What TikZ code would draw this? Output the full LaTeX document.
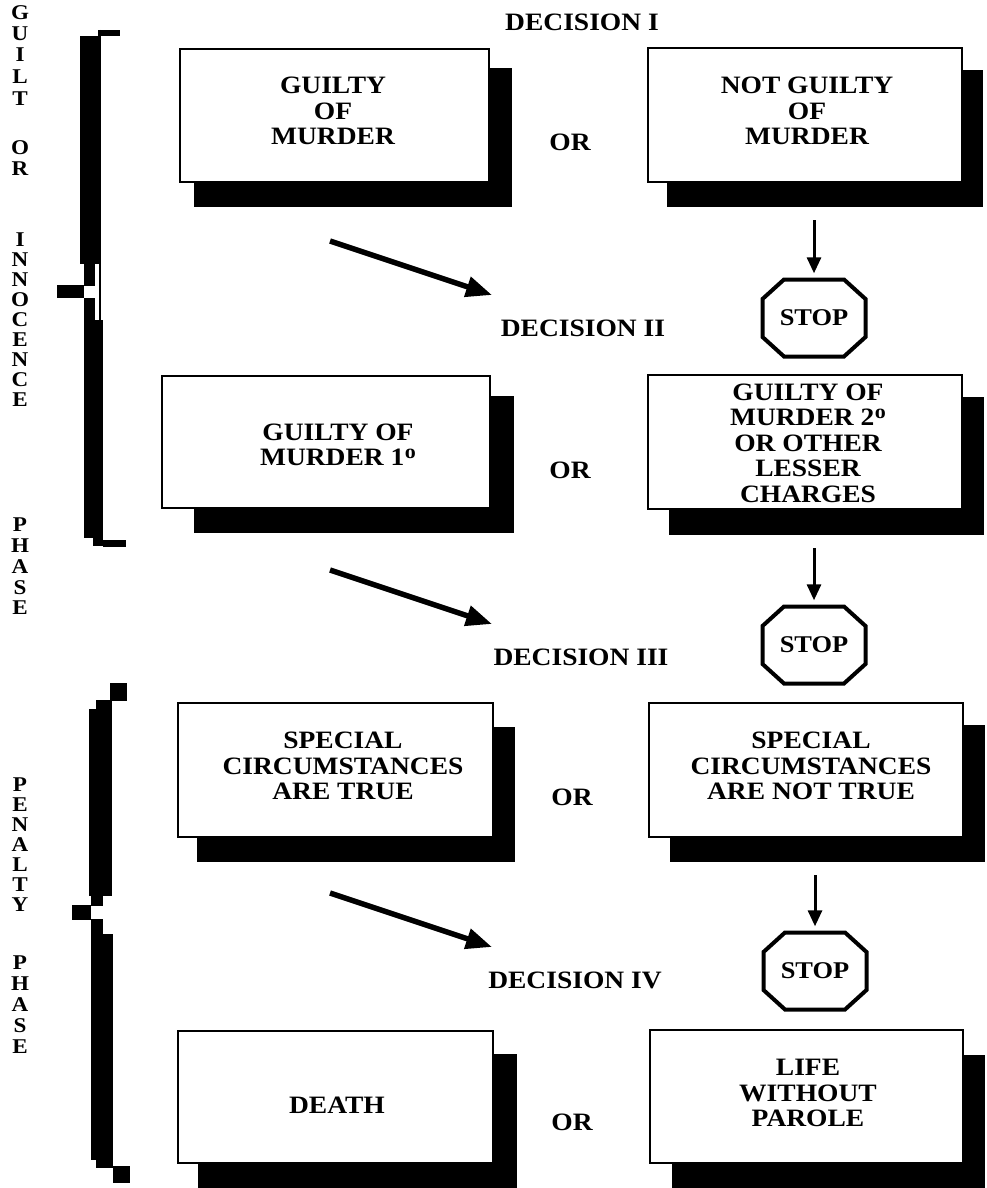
\documentclass[tikz,border=0pt]{standalone}
\usepackage{fontspec}
\setmainfont{Liberation Serif}[FakeStretch=1.1]
\usetikzlibrary{arrows.meta,calc}
\tikzset{
  shadowbox/.style={fill=black},
  boxnode/.style={draw, line width=2.5pt, fill=white, inner sep=0pt},
  boxtext/.style={align=center, font=\fontsize{25}{25.5}\selectfont\bfseries},
  declabel/.style={font=\fontsize{25}{25}\selectfont\bfseries},
  orlabel/.style={font=\fontsize{25}{25}\selectfont\bfseries},
  sidelabel/.style={font=\fontsize{21}{21}\selectfont\bfseries, inner sep=0pt},
  stopbox/.style={minimum width=103pt, minimum height=77pt, inner sep=0pt, font=\fontsize{24}{24}\selectfont\bfseries},
  octo/.style={line width=4pt, line join=miter},
  diagarrow/.style={line width=5.5pt, -{Triangle[length=26pt,width=20pt]}},
  vertarrow/.style={line width=3pt, -{Triangle[length=16pt,width=14pt]}, shorten >=6pt},
  bracefill/.style={fill=black},
}
\newcommand\ordo{\kern0.5pt\raisebox{7.3pt}{\fontsize{20}{20}\selectfont o}}
\newcommand\drawoctagon[1]{%
  \draw[octo] ($(#1)+(-30,-38.5)$) -- ($(#1)+(30,-38.5)$) -- ($(#1)+(51.5,-19)$) -- ($(#1)+(51.5,19)$)
   -- ($(#1)+(30,38.5)$) -- ($(#1)+(-30,38.5)$) -- ($(#1)+(-51.5,19)$) -- ($(#1)+(-51.5,-19)$) -- cycle;}
\begin{document}
\begin{tikzpicture}[x=1pt,y=-1pt]
\useasboundingbox (0,0) rectangle (986,1188);

% ---------- shadows ----------
\fill[shadowbox] (194,68) rectangle (512,207);
\fill[shadowbox] (667,70) rectangle (983,207);
\fill[shadowbox] (194,396) rectangle (514,533);
\fill[shadowbox] (669,397) rectangle (984,535);
\fill[shadowbox] (197,727) rectangle (515,862);
\fill[shadowbox] (670,725) rectangle (985,862);
\fill[shadowbox] (198,1054) rectangle (517,1188);
\fill[shadowbox] (672,1055) rectangle (985,1188);

% ---------- boxes ----------
\node[boxnode, minimum width=309pt, minimum height=133pt] (b1l) at (334.5,115.5) {};
\node[boxnode, minimum width=314pt, minimum height=134pt] (b1r) at (805,115) {};
\node[boxnode, minimum width=328pt, minimum height=132pt] (b2l) at (326,442) {};
\node[boxnode, minimum width=314pt, minimum height=134pt] (b2r) at (805,442) {};
\node[boxnode, minimum width=315pt, minimum height=134pt] (b3l) at (335.5,770) {};
\node[boxnode, minimum width=314pt, minimum height=134pt] (b3r) at (806,770) {};
\node[boxnode, minimum width=315pt, minimum height=132pt] (b4l) at (335.5,1097) {};
\node[boxnode, minimum width=313pt, minimum height=133pt] (b4r) at (806.5,1096.5) {};

% ---------- box texts ----------
\node[boxtext] (t1l) at (333,111) {GUILTY\\OF\\MURDER};
\node[boxtext] (t1r) at (807,111) {NOT GUILTY\\OF\\MURDER};
\node[boxtext] (t2l) at (338,445) {GUILTY OF\\MURDER 1\ordo};
\node[boxtext] (t2r) at (808,443) {GUILTY OF\\MURDER 2\ordo\\OR OTHER\\LESSER\\CHARGES};
\node[boxtext] (t3l) at (343,766) {SPECIAL\\CIRCUMSTANCES\\ARE TRUE};
\node[boxtext] (t3r) at (811,766) {SPECIAL\\CIRCUMSTANCES\\ARE NOT TRUE};
\node[boxtext] (t4l) at (337,1105) {DEATH};
\node[boxtext] (t4r) at (808,1093) {LIFE\\WITHOUT\\PAROLE};

% ---------- decision labels ----------
\node[declabel] (d1) at (582,22) {DECISION I};
\node[declabel] (d2) at (583,328) {DECISION II};
\node[declabel] (d3) at (581,657) {DECISION III};
\node[declabel] (d4) at (575,980) {DECISION IV};

% ---------- OR labels ----------
\node[orlabel] (or1) at (570,142) {OR};
\node[orlabel] (or2) at (570,470) {OR};
\node[orlabel] (or3) at (572,797) {OR};
\node[orlabel] (or4) at (572,1122) {OR};

% ---------- stop signs ----------
\node[stopbox] (s1) at (814,318) {STOP};
\node[stopbox] (s2) at (814,645) {STOP};
\node[stopbox] (s3) at (815,971) {STOP};
\drawoctagon{s1}
\drawoctagon{s2}
\drawoctagon{s3}

% ---------- vertical arrows ----------
\coordinate (v1) at (814,220);
\coordinate (v2) at (814,548);
\coordinate (v3) at (815,875);
\draw[vertarrow] (v1) -- (s1.north);
\draw[vertarrow] (v2) -- (s2.north);
\draw[vertarrow] (v3) -- (s3.north);

% ---------- diagonal arrows ----------
\coordinate (a1s) at (330,241);
\coordinate (a1e) at (492,295);
\coordinate (a2s) at (330,570);
\coordinate (a2e) at (492,624);
\coordinate (a3s) at (330,893);
\coordinate (a3e) at (492,947);
\draw[diagarrow] (a1s) -- (a1e);
\draw[diagarrow] (a2s) -- (a2e);
\draw[diagarrow] (a3s) -- (a3e);

% ---------- side labels ----------
\foreach \ch/\yy [count=\i] in {G/13,U/34,I/55,L/77,T/99,O/148,R/169,I/240,N/260,N/280,O/300,C/320,E/340,N/360,C/380,E/400,P/525,H/546,A/567,S/588,E/608}
  {\node[sidelabel] (ga\i) at (20,\yy) {\ch};}
\foreach \ch/\yy [count=\i] in {P/785,E/805,N/825,A/845,L/865,T/885,Y/905,P/963,H/984,A/1005,S/1026,E/1047}
  {\node[sidelabel] (pa\i) at (20,\yy) {\ch};}

% ---------- brace 1 ----------
\fill[bracefill] (98,30) rectangle (120,36);
\draw[line width=1.5pt] (100,30) -- (100,545);
\fill[bracefill] (80,36) rectangle (100,264);
\fill[bracefill] (84,264) rectangle (95,286);
\fill[bracefill] (57,285) rectangle (84,298);
\fill[bracefill] (84,298) rectangle (95,320);
\fill[bracefill] (84,320) rectangle (103,538);
\fill[bracefill] (93,538) rectangle (103,546);
\fill[bracefill] (103,540) rectangle (126,547);

% ---------- brace 2 ----------
\fill[bracefill] (110,683) rectangle (127,701);
\fill[bracefill] (96,700) rectangle (112,710);
\fill[bracefill] (89,709) rectangle (112,896);
\fill[bracefill] (91,896) rectangle (103,906);
\fill[bracefill] (72,905) rectangle (91,920);
\fill[bracefill] (91,919) rectangle (103,935);
\fill[bracefill] (91,934) rectangle (113,1160);
\fill[bracefill] (96,1159) rectangle (113,1168);
\fill[bracefill] (113,1166) rectangle (130,1183);
\end{tikzpicture}
\end{document}
